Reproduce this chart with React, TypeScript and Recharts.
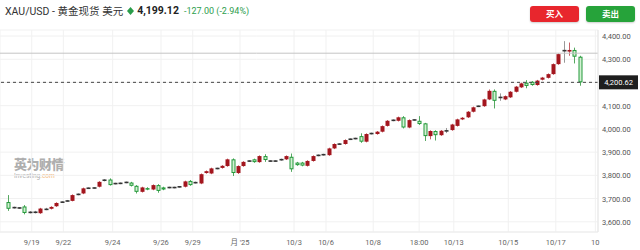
import { ComposedChart, Bar, XAxis, YAxis, CartesianGrid, ReferenceLine } from 'recharts';

// 4h candles, XAU/USD
const opens = [
  3685, 3662, 3660, 3666, 3641, 3640, 3637, 3653, 3656, 3667, 3684, 3689, 3690, 3717, 3722, 3744, 3745, 3751,
  3781, 3782, 3765, 3765, 3769, 3769, 3755, 3729, 3745, 3739, 3758, 3748, 3748, 3747, 3750, 3751, 3776, 3768,
  3765, 3810, 3808, 3829, 3832, 3840, 3869, 3810, 3840, 3861, 3869, 3857, 3883, 3862, 3861, 3866, 3869, 3880,
  3855, 3855, 3841, 3862, 3885, 3888, 3887, 3916, 3934, 3935, 3955, 3958, 3969, 3945, 3979, 3978, 3988, 4013,
  4036, 4035, 4050, 4006, 4038, 4035, 4024, 3969, 3991, 3973, 3991, 3995, 4013, 4041, 4050, 4074, 4097, 4098,
  4127, 4164, 4135, 4127, 4136, 4160, 4179, 4199, 4203, 4189, 4212, 4220, 4236, 4279, 4336, 4333, 4340, 4311,
];
const highs = [
  3715, 3665, 3663, 3672, 3646, 3647, 3660, 3660, 3667, 3684, 3688, 3694, 3718, 3722, 3747, 3748, 3749, 3775,
  3784, 3787, 3768, 3769, 3773, 3772, 3758, 3751, 3749, 3761, 3762, 3751, 3751, 3751, 3754, 3777, 3780, 3773,
  3808, 3821, 3833, 3833, 3844, 3872, 3873, 3843, 3861, 3865, 3872, 3886, 3891, 3865, 3865, 3872, 3886, 3894,
  3858, 3858, 3865, 3886, 3890, 3893, 3919, 3938, 3939, 3955, 3959, 3962, 3981, 3981, 3984, 3991, 4015, 4038,
  4041, 4053, 4055, 4041, 4042, 4055, 4026, 3994, 3994, 3995, 4004, 4022, 4044, 4051, 4077, 4096, 4101, 4130,
  4170, 4170, 4153, 4144, 4163, 4185, 4199, 4210, 4206, 4211, 4224, 4239, 4282, 4325, 4378, 4372, 4350, 4315,
];
const lows = [
  3647, 3657, 3655, 3632, 3636, 3636, 3634, 3650, 3653, 3664, 3681, 3686, 3688, 3714, 3719, 3741, 3742, 3748,
  3774, 3756, 3761, 3762, 3766, 3752, 3722, 3726, 3736, 3736, 3725, 3736, 3744, 3744, 3747, 3748, 3755, 3765,
  3762, 3807, 3805, 3826, 3829, 3837, 3797, 3806, 3837, 3858, 3854, 3854, 3858, 3858, 3858, 3863, 3866, 3815,
  3841, 3839, 3838, 3859, 3882, 3885, 3884, 3913, 3931, 3932, 3952, 3955, 3940, 3942, 3976, 3975, 3985, 4010,
  4033, 4032, 4002, 4003, 4035, 4017, 3948, 3955, 3950, 3970, 3982, 3992, 4010, 4038, 4047, 4071, 4094, 4095,
  4124, 4088, 4121, 4124, 4133, 4157, 4176, 4175, 4186, 4186, 4209, 4217, 4233, 4276, 4285, 4315, 4282, 4186,
];
const closes = [
  3656, 3660, 3659, 3638, 3640, 3642, 3657, 3654, 3664, 3681, 3685, 3690, 3715, 3719, 3744, 3745, 3746, 3772,
  3777, 3758, 3764, 3766, 3770, 3755, 3729, 3748, 3739, 3758, 3733, 3739, 3747, 3748, 3751, 3774, 3758, 3769,
  3805, 3818, 3830, 3830, 3841, 3869, 3810, 3840, 3858, 3862, 3857, 3883, 3866, 3861, 3862, 3869, 3883, 3826,
  3844, 3842, 3862, 3883, 3887, 3890, 3916, 3935, 3935, 3952, 3956, 3959, 3945, 3978, 3981, 3988, 4012, 4035,
  4038, 4050, 4006, 4038, 4039, 4021, 3969, 3991, 3973, 3992, 3992, 4019, 4041, 4048, 4074, 4093, 4098, 4127,
  4164, 4121, 4136, 4141, 4160, 4182, 4196, 4185, 4189, 4208, 4221, 4236, 4279, 4322, 4338, 4340, 4311, 4200.62,
];

const xTicks = [4.44, 10.36, 19.6, 28.65, 34.6, 43.45, 53.57, 59.56, 68.4, 77, 83.5, 93.7, 102.6, 110];
const xTickLabels = ['9/19', '9/22', '9/24', '9/26', '9/29', "月 '25", '10/3', '10/6', '10/8', '18:00', '10/13', '10/15', '10/17', '10'];
const yTicks = [3600, 3700, 3800, 3900, 4000, 4100, 4200, 4300, 4400];

const prevClose = 4326.12;
const lastPrice = 4200.62;

const data = opens.map((o, i) => ({ i, open: o, high: highs[i], low: lows[i], close: closes[i] }));

const fmt = (v: number) => v.toLocaleString('en-US', { minimumFractionDigits: 2, maximumFractionDigits: 2 });

function Candle(props: any) {
  const { x, y, width, height, payload } = props;
  const { open, close, high, low } = payload;
  const py = (p: number) => y + ((high - p) / (high - low)) * height;
  const cx = Math.round(x + width / 2) + 0.5;
  const top = py(Math.max(open, close));
  const bottom = py(Math.min(open, close));
  const up = close > open;
  const bodyH = bottom - top;
  if (bodyH < 1.2) {
    return (
      <g>
        <line x1={cx} x2={cx} y1={y} y2={y + height} stroke="#999" strokeWidth={1} />
        <rect x={cx - 2} y={(top + bottom) / 2 - 0.8} width={4} height={1.6} fill="#333" />
      </g>
    );
  }
  return (
    <g>
      <line x1={cx} x2={cx} y1={y} y2={y + height} stroke={up ? '#c86066' : '#55a860'} strokeWidth={1} />
      {up ? (
        <rect x={cx - 2} y={top} width={4} height={bodyH} fill="#a3161e" />
      ) : (
        <rect x={cx - 1.5} y={top + 0.5} width={3} height={Math.max(bodyH - 1, 0.5)} fill="#d3f0d3" stroke="#239a3a" strokeWidth={1} />
      )}
    </g>
  );
}

function YTick(props: any) {
  const { x, y, payload } = props;
  // the 4,200 label sits under the last-price tag in the original
  if (Math.abs(payload.value - lastPrice) < 10) return null;
  return (
    <text x={x - 4} y={y + 3} fontSize={7.5} fill="#555" textAnchor="start">
      {fmt(payload.value)}
    </text>
  );
}

function PriceTag(props: any) {
  const vb = props.viewBox || {};
  const right = vb.x + vb.width;
  return (
    <g>
      <rect x={right + 1} y={vb.y - 7} width={39} height={14} fill="#1e1e1e" />
      <text x={right + 20.5} y={vb.y + 3} fontSize={7.5} fill="#fff" textAnchor="middle">
        {fmt(lastPrice)}
      </text>
    </g>
  );
}

export default function App() {
  return (
    <div
      style={{
        position: 'absolute',
        left: 0,
        top: 0,
        width: 640,
        height: 250,
        background: '#fff',
        fontFamily: "Roboto, 'Noto Sans CJK SC', sans-serif",
        overflow: 'hidden',
      }}
    >
      <div style={{ position: 'absolute', left: 5, top: 3, fontSize: 10.5, color: '#333', whiteSpace: 'nowrap', display: 'flex', alignItems: 'center' }}>
        <span>XAU/USD - 黄金现货 美元</span>
        <svg width={7} height={8} style={{ marginLeft: 4 }}>
          <polygon points="3.5,0 7,4 3.5,8 0,4" fill="#2a9d4a" />
        </svg>
        <span style={{ marginLeft: 3, fontWeight: 700, fontSize: 10.5, color: '#222' }}>4,199.12</span>
        <span style={{ marginLeft: 5, fontSize: 9, color: '#2e9e4e' }}>-127.00 (-2.94%)</span>
      </div>

      <div style={{ position: 'absolute', left: 530, top: 6, width: 49, height: 16, background: '#e8262d', borderRadius: 3, color: '#fff', fontSize: 8.5, fontWeight: 700, textAlign: 'center', lineHeight: '16px', boxShadow: '0 1px 2px rgba(0,0,0,0.2)' }}>
        买入
      </div>
      <div style={{ position: 'absolute', left: 586, top: 6, width: 49, height: 16, background: '#26a33a', borderRadius: 3, color: '#fff', fontSize: 8.5, fontWeight: 700, textAlign: 'center', lineHeight: '16px', boxShadow: '0 1px 2px rgba(0,0,0,0.2)' }}>
        卖出
      </div>

      <div style={{ position: 'absolute', left: 14, top: 158, color: '#9a9a9a', opacity: 0.8 }}>
        <div style={{ fontSize: 13, fontWeight: 900, letterSpacing: -0.5, lineHeight: '14px' }}>英为财情</div>
        <div style={{ fontSize: 6.5, lineHeight: '8px' }}>
          Investing<span style={{ color: '#f0a860' }}>.com</span>
        </div>
      </div>

      <div style={{ position: 'absolute', left: 0, top: 0 }}>
        <ComposedChart width={640} height={250} data={data} margin={{ top: 30, right: 0, bottom: 0, left: 0 }}>
          <CartesianGrid stroke="#f1f1f1" />
          <XAxis
            dataKey="i"
            type="number"
            domain={[-1.5, 110.5]}
            ticks={xTicks}
            interval={0}
            allowDataOverflow
            tickFormatter={(v: number) => xTickLabels[xTicks.indexOf(v)] ?? ''}
            tick={{ fill: '#666', fontSize: 7.5 }}
            tickLine={false}
            axisLine={{ stroke: '#ececec' }}
            height={18}
          />
          <YAxis
            orientation="right"
            domain={[3556, 4426]}
            ticks={yTicks}
            interval={0}
            allowDataOverflow
            tick={<YTick />}
            tickLine={false}
            axisLine={{ stroke: '#e6e6e6' }}
            width={42}
          />
          <ReferenceLine y={prevClose} stroke="#c4c4c4" strokeWidth={1} />
          <Bar dataKey={(d: any) => [d.low, d.high]} barSize={4} shape={<Candle />} isAnimationActive={false} />
          <ReferenceLine y={lastPrice} stroke="#444" strokeDasharray="3 3" strokeWidth={1} label={<PriceTag />} />
        </ComposedChart>
      </div>
    </div>
  );
}
